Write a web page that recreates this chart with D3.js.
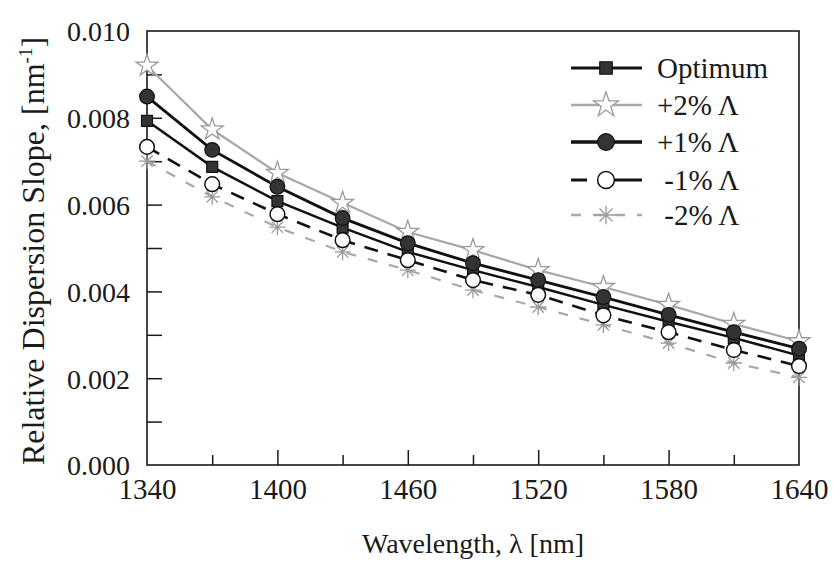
<!DOCTYPE html>
<html>
<head>
<meta charset="utf-8">
<script src="https://cdn.jsdelivr.net/npm/d3@7"></script>
</head>
<body style="margin:0">
<svg id="chart" width="833" height="562"></svg>
<script>
// ---- data ----
const wavelengths = [1340, 1370, 1400, 1430, 1460, 1490, 1520, 1550, 1580, 1610, 1640];
const optimum   = [0.00793, 0.00687, 0.00608, 0.00547, 0.00491, 0.00449, 0.00410, 0.00369, 0.00330, 0.00293, 0.00252];
const plus2     = [0.00920, 0.00773, 0.00673, 0.00604, 0.00537, 0.00495, 0.00449, 0.00410, 0.00369, 0.00325, 0.00285];
const plus1     = [0.00849, 0.00726, 0.00641, 0.00569, 0.00511, 0.00465, 0.00426, 0.00387, 0.00346, 0.00306, 0.00268];
const minus1    = [0.00733, 0.00647, 0.00578, 0.00518, 0.00472, 0.00426, 0.00392, 0.00345, 0.00306, 0.00265, 0.00228];
const minus2    = [0.00700, 0.00618, 0.00548, 0.00491, 0.00449, 0.00403, 0.00364, 0.00323, 0.00281, 0.00235, 0.00202];
const seriesNames = ["Optimum", "+2% \u039B", "+1% \u039B", " -1% \u039B", " -2% \u039B"];
const xTickLabels = [1340, 1400, 1460, 1520, 1580, 1640];
const yTickLabels = ["0.000", "0.002", "0.004", "0.006", "0.008", "0.010"];

// ---- layout ----
const FONT = '"Liberation Serif", "Times New Roman", serif';
const INK = "#1a1a1a";
const L = 147, R = 799, T = 31, B = 465;
const svg = d3.select("#chart");

function txt(sel) {
  return sel.attr("font-family", FONT).style("font-family", FONT).attr("fill", INK);
}

const x = d3.scaleLinear().domain([1340, 1640]).range([L, R]);
const y = d3.scaleLinear().domain([0, 0.010]).range([B, T]);

// custom asterisk symbol
const asterisk = {
  draw(ctx, size) {
    const r = Math.sqrt(size) / 2;
    for (let i = 0; i < 4; i++) {
      const a = i * Math.PI / 4;
      ctx.moveTo(-r * Math.cos(a), -r * Math.sin(a));
      ctx.lineTo(r * Math.cos(a), r * Math.sin(a));
    }
  }
};

const styles = [
  { name: seriesNames[0], values: optimum, stroke: "#111", width: 2.5, dash: null, legDash: null,
    sym: d3.symbolSquare, size: 120, fill: "#333", mstroke: "#111", mwidth: 1.2 },
  { name: seriesNames[1], values: plus2, stroke: "#a8a8a8", width: 2.2, dash: null, legDash: null,
    sym: d3.symbolStar, size: 150, fill: "#fff", mstroke: "#9a9a9a", mwidth: 1.3 },
  { name: seriesNames[2], values: plus1, stroke: "#111", width: 2.9, dash: null, legDash: null,
    sym: d3.symbolCircle, size: 170, fill: "#333", mstroke: "#111", mwidth: 1.2 },
  { name: seriesNames[3], values: minus1, stroke: "#111", width: 2.6, dash: "14,10", legDash: "16,20,40",
    sym: d3.symbolCircle, size: 170, fill: "#fff", mstroke: "#111", mwidth: 1.5 },
  { name: seriesNames[4], values: minus2, stroke: "#a8a8a8", width: 2.2, dash: "10,12", legDash: "10,12",
    sym: asterisk, size: 260, fill: "none", mstroke: "#9a9a9a", mwidth: 1.3 }
];

// ---- frame ----
svg.append("rect").attr("x", L).attr("y", T).attr("width", R - L).attr("height", B - T)
  .attr("fill", "none").attr("stroke", INK).attr("stroke-width", 1.6);

// ---- axes ----
const xAxis = d3.axisBottom(x).tickValues(d3.range(1340, 1641, 30)).tickSizeInner(0).tickSizeOuter(0).tickFormat("");
const gx = svg.append("g").attr("transform", `translate(0,${B})`).call(xAxis);
gx.attr("font-family", FONT);
gx.select(".domain").remove();
gx.selectAll(".tick line")
  .attr("y2", d => (d === 1340 || d === 1640) ? 0 : (xTickLabels.includes(d) ? -15 : -10))
  .attr("stroke", INK).attr("stroke-width", 1.5);
txt(gx.selectAll(".tick").filter(d => xTickLabels.includes(d)).append("text")
  .attr("y", 34).attr("text-anchor", "middle").attr("font-size", 29)).text(d => d);

const yAxis = d3.axisLeft(y).tickValues(d3.range(0, 11).map(i => i * 0.001)).tickSizeInner(0).tickSizeOuter(0).tickFormat("");
const gy = svg.append("g").attr("transform", `translate(${L},0)`).call(yAxis);
gy.attr("font-family", FONT);
gy.select(".domain").remove();
gy.selectAll(".tick line").attr("x2", (d, i) => (i === 0 || i === 10) ? 0 : 15)
  .attr("stroke", INK).attr("stroke-width", 1.5);
txt(gy.selectAll(".tick").filter((d, i) => i % 2 === 0).append("text")
  .attr("x", -17).attr("dy", "0.35em").attr("text-anchor", "end").attr("font-size", 28))
  .text((d, i) => yTickLabels[i]);

// axis titles
txt(svg.append("text").attr("x", (L + R) / 2).attr("y", 553).attr("text-anchor", "middle")
  .attr("font-size", 28)).text("Wavelength, \u03BB [nm]");

const yt = txt(svg.append("text").attr("transform", `translate(44,${(T + B) / 2 + 3}) rotate(-90)`)
  .attr("text-anchor", "middle").attr("font-size", 32));
yt.append("tspan").text("Relative Dispersion Slope, [nm");
yt.append("tspan").attr("font-size", 19).attr("dy", -12).text("-1");
yt.append("tspan").attr("dy", 12).text("]");

// ---- series ----
const line = d3.line().x((d, i) => x(wavelengths[i])).y(d => y(d));
const plotG = svg.append("g");
[1, 4, 3, 0, 2].forEach(k => {
  const s = styles[k];
  plotG.append("path").datum(s.values).attr("d", line)
    .attr("fill", "none").attr("stroke", s.stroke).attr("stroke-width", s.width)
    .attr("stroke-dasharray", s.dash);
});
[1, 4, 0, 2, 3].forEach(k => {
  const s = styles[k];
  plotG.selectAll(null).data(s.values).enter().append("path")
    .attr("transform", (d, i) => `translate(${x(wavelengths[i])},${y(d)})`)
    .attr("d", d3.symbol().type(s.sym).size(s.size))
    .attr("fill", s.fill).attr("stroke", s.mstroke).attr("stroke-width", s.mwidth);
});

// ---- legend ----
const legY = [68, 105, 142, 180, 215];
const lg = svg.append("g");
styles.forEach((s, i) => {
  const g = lg.append("g").attr("transform", `translate(0,${legY[i]})`);
  g.append("line").attr("x1", 571).attr("x2", 642).attr("y1", 0).attr("y2", 0)
    .attr("stroke", s.stroke).attr("stroke-width", s.width + 0.4)
    .attr("stroke-dasharray", s.legDash);
  g.append("path").attr("transform", "translate(606,0)")
    .attr("d", d3.symbol().type(s.sym).size(s.size * 1.3))
    .attr("fill", s.fill).attr("stroke", s.mstroke).attr("stroke-width", s.mwidth);
  txt(g.append("text").attr("x", 657).attr("y", 0).attr("dy", "0.35em").attr("font-size", 29))
    .attr("xml:space", "preserve").style("white-space", "pre").text(s.name);
});
</script>
</body>
</html>
